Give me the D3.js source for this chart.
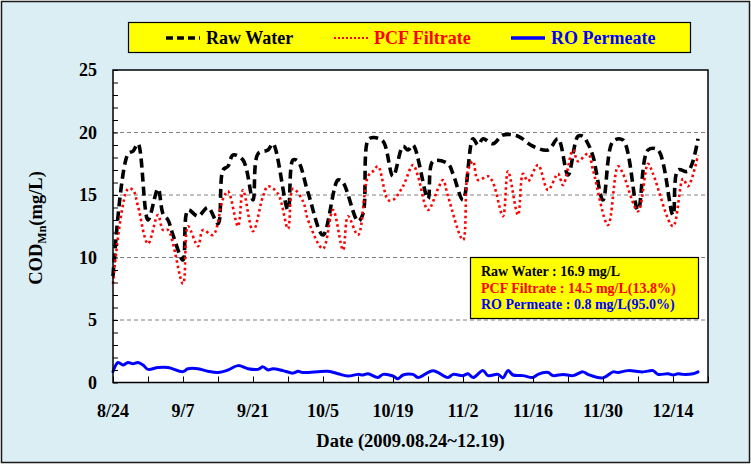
<!DOCTYPE html>
<html>
<head>
<meta charset="utf-8">
<script src="https://cdn.jsdelivr.net/npm/d3@7"></script>
<style>
  body { margin: 0; background: #fff; }
  text { font-family: "Liberation Serif", "Times New Roman", serif; font-weight: bold; }
</style>
</head>
<body>
<div id="chart"></div>
<script>
// days counted from 2009-08-24
const startDate = new Date(2009, 7, 24)
const endDate = new Date(2009, 11, 21)

const rawDays = [0, 3, 4, 5, 7, 9, 10, 11, 12, 14, 15, 17, 19, 21, 22, 23, 24, 26, 28, 29, 31, 32, 35, 36, 37, 39, 42, 45, 46, 49, 50, 51, 52, 54, 56, 58, 59, 60, 63, 64, 67, 68, 70, 72, 73, 74, 76, 78, 81, 84, 87, 89, 91, 93, 94, 95, 96, 98, 100, 102, 105, 107, 109, 112, 113, 115, 117]
const rawValues = [8.5, 18.3, 18.5, 19.1, 13.0, 15.5, 13.5, 13.0, 11.8, 9.8, 13.8, 13.3, 14.0, 12.7, 17.0, 17.3, 18.2, 17.8, 14.6, 18.3, 18.6, 19.1, 13.8, 17.8, 17.7, 15.2, 11.8, 16.2, 16.0, 12.9, 13.5, 19.4, 19.6, 19.3, 16.5, 18.9, 18.6, 19.0, 14.7, 17.7, 17.5, 16.7, 14.6, 19.5, 19.0, 19.5, 19.1, 19.8, 19.7, 18.9, 18.6, 19.5, 16.6, 19.7, 19.7, 19.1, 18.1, 14.6, 19.3, 19.4, 13.8, 18.6, 18.6, 13.4, 17.0, 16.9, 19.5]

const pcfDays = [0, 3, 4, 5, 7, 9, 10, 11, 14, 15, 17, 18, 20, 22, 23, 25, 26, 28, 30, 31, 33, 35, 36, 38, 39, 42, 44, 46, 47, 49, 51, 52, 53, 55, 56, 58, 60, 61, 63, 65, 66, 67, 70, 71, 72, 73, 75, 76, 78, 79, 81, 82, 83, 85, 87, 89, 90, 92, 93, 95, 96, 99, 101, 102, 105, 107, 108, 112, 114, 115, 117]
const pcfValues = [7.9, 15.5, 15.4, 14.1, 11.1, 13.4, 12.2, 12.2, 7.9, 12.5, 10.9, 12.2, 11.8, 14.7, 15.3, 12.5, 15.4, 12.1, 14.9, 15.7, 15.1, 12.3, 15.5, 14.5, 13.0, 10.7, 13.8, 10.6, 13.3, 11.8, 16.5, 16.9, 17.3, 14.6, 14.6, 15.7, 17.4, 16.5, 13.8, 15.5, 16.2, 14.9, 11.4, 17.0, 17.7, 16.2, 16.5, 16.0, 13.3, 16.9, 13.4, 16.7, 16.1, 17.4, 15.4, 16.7, 15.8, 18.6, 17.7, 18.3, 17.0, 12.6, 17.3, 16.7, 13.7, 17.5, 16.7, 12.5, 16.3, 15.7, 18.2]

const roDays = [0, 1, 2, 3, 4, 5, 6, 7, 9, 11, 14, 15, 17, 19, 21, 23, 25, 27, 29, 30, 31, 32, 34, 36, 37, 38, 43, 45, 47, 49, 50, 51, 53, 54, 56, 57, 58, 60, 61, 64, 67, 68, 70, 71, 72, 74, 75, 77, 78, 79, 80, 82, 84, 85, 87, 88, 90, 92, 94, 95, 98, 100, 101, 103, 106, 108, 109, 111, 112, 113, 114, 116, 117]
const roValues = [0.87, 1.6, 1.4, 1.6, 1.5, 1.6, 1.4, 1.05, 1.2, 1.2, 0.87, 1.1, 1.1, 0.9, 0.8, 1.0, 1.35, 1.1, 1.05, 1.25, 1.0, 1.1, 0.95, 0.75, 0.9, 0.8, 0.9, 0.7, 0.52, 0.65, 0.6, 0.7, 0.4, 0.65, 0.52, 0.3, 0.6, 0.65, 0.4, 0.95, 0.4, 0.65, 0.55, 0.7, 0.4, 0.95, 0.55, 0.65, 0.37, 0.95, 0.6, 0.55, 0.4, 0.65, 0.8, 0.55, 0.65, 0.55, 0.85, 0.65, 0.37, 0.85, 0.8, 0.95, 0.85, 0.95, 0.65, 0.7, 0.6, 0.7, 0.65, 0.7, 0.85]

const yTicks = [0, 5, 10, 15, 20, 25]
const gridValues = [5, 10, 15, 20]
const legendNames = ["Raw Water", "PCF Filtrate", "RO Permeate"]
const summaryLines = ["Raw Water : 16.9 mg/L", "PCF Filtrate : 14.5 mg/L(13.8%)", "RO Permeate : 0.8 mg/L(95.0%)"]

const colors = ["#000000", "#ff0000", "#0000ff"]

const width = 751
const height = 464
const plot = {left: 113, right: 708, top: 70, bottom: 382.5}

const svg = d3.select("#chart")
    .append("svg")
    .attr("width", width)
    .attr("height", height)

// outer chart area
svg.append("rect")
    .attr("x", 1.5).attr("y", 1.5)
    .attr("width", width - 3).attr("height", height - 3)
    .attr("fill", "#dbeef4")
    .attr("stroke", "#1a1a1a")
    .attr("stroke-width", 1.5)

svg.append("rect")
    .attr("x", plot.left).attr("y", plot.top)
    .attr("width", plot.right - plot.left).attr("height", plot.bottom - plot.top)
    .attr("fill", "#fff")

const x = d3.scaleTime()
    .domain([startDate, endDate])
    .range([plot.left, plot.right])

const y = d3.scaleLinear()
    .domain([0, 25])
    .range([plot.bottom, plot.top])

// grid
svg.append("g")
    .selectAll("line")
    .data(gridValues)
    .join("line")
    .attr("x1", plot.left).attr("x2", plot.right)
    .attr("y1", d => y(d)).attr("y2", d => y(d))
    .attr("stroke", "#808080")
    .attr("stroke-width", 1)
    .attr("stroke-dasharray", "4,3")

const toDate = d => d3.timeDay.offset(startDate, d)

const series = [
    {days: rawDays, values: rawValues, color: colors[0], width: 3.6, dash: "9,5", cap: "butt"},
    {days: pcfDays, values: pcfValues, color: colors[1], width: 2.6, dash: "2.5,3", cap: "butt"},
    {days: roDays, values: roValues, color: colors[2], width: 3, dash: null, cap: "round"}
]

const line = d3.line()
    .x(d => x(d[0]))
    .y(d => y(d[1]))
    .curve(d3.curveCatmullRom.alpha(0.5))

series.forEach(s => {
    const pts = s.days.map((d, i) => [toDate(d), s.values[i]])
    svg.append("path")
        .datum(pts)
        .attr("d", line)
        .attr("fill", "none")
        .attr("stroke", s.color)
        .attr("stroke-width", s.width)
        .attr("stroke-dasharray", s.dash)
        .attr("stroke-linecap", s.cap)
        .attr("stroke-linejoin", "round")
})

// plot border
svg.append("rect")
    .attr("x", plot.left).attr("y", plot.top)
    .attr("width", plot.right - plot.left).attr("height", plot.bottom - plot.top)
    .attr("fill", "none")
    .attr("stroke", "#000")
    .attr("stroke-width", 1.5)

// y axis (ticks inside)
const yAxis = svg.append("g")
    .attr("transform", `translate(${plot.left},0)`)
    .call(d3.axisRight(y).tickValues(d3.range(0, 26, 1)).tickSize(5).tickFormat(""))
yAxis.select(".domain").remove()
yAxis.selectAll("line").attr("stroke", "#000").attr("stroke-width", 1)

svg.append("g")
    .selectAll("text")
    .data(yTicks)
    .join("text")
    .attr("x", 97)
    .attr("y", d => y(d) + 6)
    .attr("text-anchor", "end")
    .attr("font-size", 18)
    .text(d => d)

// x axis (ticks inside)
const weekTicks = d3.timeMonday.range(startDate, d3.timeDay.offset(endDate, 1))
const xAxis = svg.append("g")
    .attr("transform", `translate(0,${plot.bottom})`)
    .call(d3.axisTop(x).tickValues(weekTicks).tickSize(6).tickFormat(""))
xAxis.select(".domain").remove()
xAxis.selectAll("line").attr("stroke", "#000").attr("stroke-width", 1)

const fmt = d3.timeFormat("%-m/%-d")
svg.append("g")
    .selectAll("text")
    .data(weekTicks.filter((d, i) => i % 2 === 0 && i < 17))
    .join("text")
    .attr("x", d => x(d))
    .attr("y", 417)
    .attr("text-anchor", "middle")
    .attr("font-size", 18)
    .text(d => fmt(d))

svg.append("text")
    .attr("x", (plot.left + plot.right) / 2)
    .attr("y", 447)
    .attr("text-anchor", "middle")
    .attr("font-size", 18.5)
    .text("Date (2009.08.24~12.19)")

// y title
const yTitle = svg.append("text")
    .attr("transform", "translate(42,228) rotate(-90)")
    .attr("text-anchor", "middle")
    .attr("font-size", 18.5)
yTitle.append("tspan").text("COD")
yTitle.append("tspan").attr("font-size", 12).attr("dy", 4).text("Mn")
yTitle.append("tspan").attr("dy", -4).text("(mg/L)")

// legend
svg.append("rect")
    .attr("x", 128.5).attr("y", 22.5)
    .attr("width", 562).attr("height", 30)
    .attr("fill", "#ffff00")
    .attr("stroke", "#000")
    .attr("stroke-width", 1.2)

const legendX = [166, 334, 511]
legendNames.forEach((name, i) => {
    const s = series[i]
    svg.append("line")
        .attr("x1", legendX[i]).attr("x2", legendX[i] + 34)
        .attr("y1", 38).attr("y2", 38)
        .attr("stroke", s.color)
        .attr("stroke-width", i === 1 ? 2 : 3.5)
        .attr("stroke-dasharray", i === 0 ? "7,4" : i === 1 ? "2,2" : null)
    svg.append("text")
        .attr("x", legendX[i] + 40)
        .attr("y", 44)
        .attr("font-size", 18)
        .attr("fill", s.color)
        .text(name)
})

// summary box
svg.append("rect")
    .attr("x", 470.5).attr("y", 257.5)
    .attr("width", 228).attr("height", 61)
    .attr("fill", "#ffff00")
    .attr("stroke", "#000")
    .attr("stroke-width", 1.2)

svg.append("g")
    .selectAll("text")
    .data(summaryLines)
    .join("text")
    .attr("x", 481)
    .attr("y", (d, i) => 276 + i * 16.5)
    .attr("font-size", 14)
    .attr("fill", (d, i) => colors[i])
    .text(d => d)
</script>
</body>
</html>
